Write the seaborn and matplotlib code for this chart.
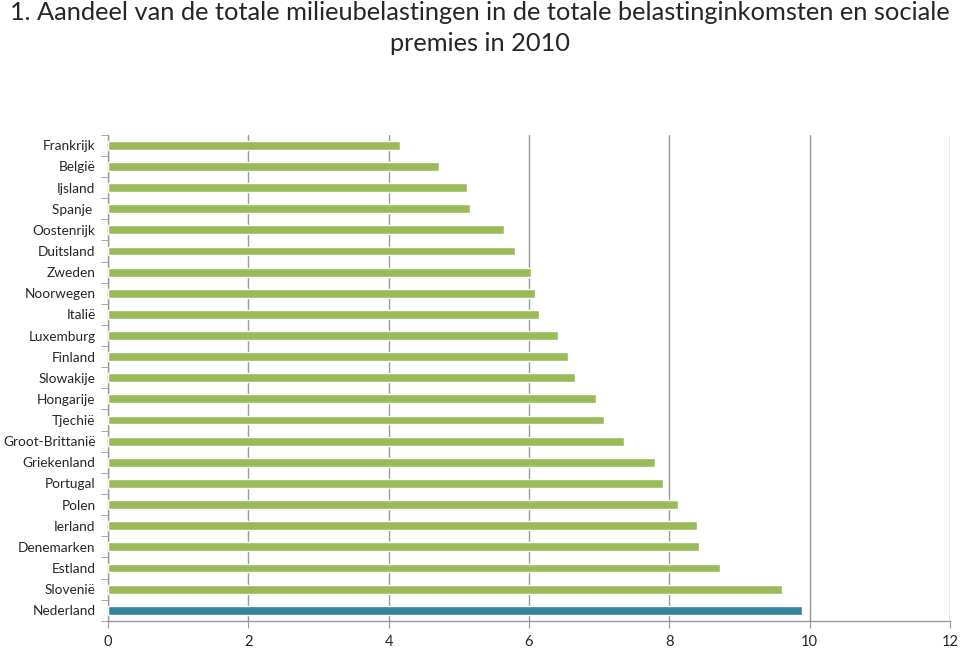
import pandas as pd
import matplotlib
matplotlib.use("Agg")
import matplotlib.pyplot as plt
import seaborn as sns
import numpy as np

# Data
countries = ["Frankrijk", "België", "Ijsland", "Spanje ", "Oostenrijk", "Duitsland",
             "Zweden", "Noorwegen", "Italië", "Luxemburg", "Finland", "Slowakije",
             "Hongarije", "Tjechië", "Groot-Brittanië", "Griekenland", "Portugal",
             "Polen", "Ierland", "Denemarken", "Estland", "Slovenië", "Nederland"]
values = [4.16, 4.72, 5.11, 5.16, 5.64, 5.80, 6.03, 6.08, 6.15, 6.41, 6.55, 6.65,
          6.95, 7.07, 7.36, 7.79, 7.91, 8.13, 8.40, 8.42, 8.72, 9.60, 9.89]
highlight = "Nederland"
x_ticks = [0, 2, 4, 6, 8, 10, 12]

df = pd.DataFrame({"land": countries, "waarde": values})
colors = ["#31859C" if c == highlight else "#9BBB59" for c in countries]

sns.set_style("white")
plt.rcParams["font.family"] = ["Lato", "DejaVu Sans"]

fig = plt.figure(figsize=(9.6, 6.48), dpi=100)
ax = fig.add_axes([0.1125, 0.042, 0.877, 0.750])

sns.barplot(data=df, x="waarde", y="land", hue="land", palette=colors,
            legend=False, width=0.42, saturation=1, ax=ax, zorder=3)

ax.set_xlim(0, 12)
ax.set_xticks(x_ticks)
ax.set_ylim(len(countries) - 0.5, -0.5)
ax.set_xlabel("")
ax.set_ylabel("")
ax.grid(axis="x", color="#9a9a9a", linewidth=1, zorder=0)
ax.set_axisbelow(True)

for side in ["top", "right"]:
    ax.spines[side].set_visible(False)
for side in ["left", "bottom"]:
    ax.spines[side].set_color("#9a9a9a")
    ax.spines[side].set_linewidth(1)

# category separators as tick marks on the y axis
ax.set_yticks(np.arange(-0.5, len(countries), 1), minor=True)
ax.tick_params(axis="y", which="major", length=0, labelsize=9.8, pad=9)
ax.tick_params(axis="y", which="minor", length=5, color="#9a9a9a", direction="out", left=True)
ax.tick_params(axis="x", length=5, color="#9a9a9a", labelsize=10.5, pad=5,
               direction="out", bottom=True)

fig.suptitle("1. Aandeel van de totale milieubelastingen in de totale belastinginkomsten en sociale\npremies in 2010",
             fontsize=18.3, y=0.998, linespacing=1.38)

plt.savefig("out.png", dpi=100)
